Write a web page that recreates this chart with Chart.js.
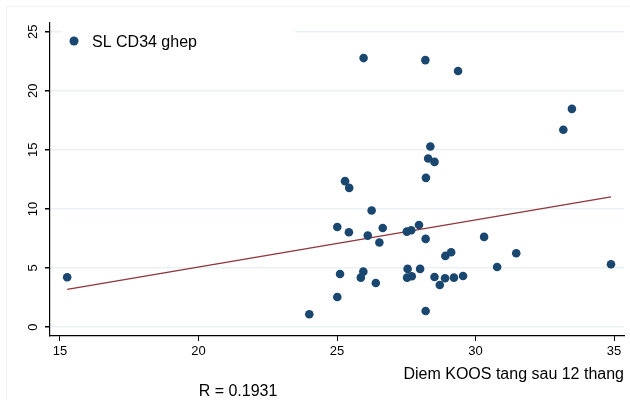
<!DOCTYPE html>
<html>
<head>
<meta charset="utf-8">
<script src="https://cdn.jsdelivr.net/npm/chart.js@4.4.1/dist/chart.umd.min.js"></script>
<style>html,body{margin:0;padding:0;background:#fff;}canvas{display:block;}</style>
</head>
<body>
<canvas id="c" width="630" height="400"></canvas>
<script>
// Data
const koosGain = [15.26, 24.0, 25.01, 25.01, 25.11, 25.29, 25.44, 25.43, 25.86, 25.95, 25.96, 26.11, 26.25, 26.4, 26.53, 26.65, 27.52, 27.68, 27.53, 27.55, 27.7, 27.96, 28.0, 28.19, 28.2, 28.21, 28.29, 28.37, 28.52, 28.2, 28.52, 28.71, 28.9, 28.91, 29.12, 29.22, 29.37, 29.55, 30.31, 30.78, 31.47, 33.17, 33.48, 34.89];
const cd34 = [4.21, 1.08, 8.47, 2.54, 4.49, 12.35, 11.78, 8.02, 4.18, 4.69, 22.77, 7.74, 9.86, 3.73, 7.15, 8.39, 8.08, 8.19, 4.18, 4.92, 4.3, 8.64, 4.92, 22.6, 7.46, 12.63, 14.27, 15.29, 13.98, 1.36, 4.24, 3.56, 4.13, 6.02, 6.33, 4.18, 21.67, 4.32, 7.63, 5.08, 6.25, 16.7, 18.47, 5.31];
const fitX = [15.26, 34.89];
const fitY = [3.19, 11.02];
const xTicks = [15, 20, 25, 30, 35];
const yTicks = [0, 5, 10, 15, 20, 25];
const seriesLabel = 'SL CD34 ghep';
const xTitle = 'Diem KOOS tang sau 12 thang';
const noteText = 'R = 0.1931';

const FONT = "'Liberation Sans', Arial, Helvetica, sans-serif";
Chart.defaults.font.family = FONT;
Chart.defaults.color = '#000';

const points = koosGain.map((x, i) => ({x: x, y: cd34[i]}));
const fit = fitX.map((x, i) => ({x: x, y: fitY[i]}));

const decor = {
  id: 'decor',
  beforeDraw(chart) {
    const ctx = chart.ctx;
    ctx.save();
    ctx.fillStyle = '#fff';
    ctx.fillRect(0, 0, chart.width, chart.height);
    ctx.strokeStyle = '#eef3f4';
    ctx.lineWidth = 1;
    ctx.strokeRect(6.5, 6.5, chart.width - 6, chart.height - 6);
    ctx.restore();
  },
  afterDatasetsDraw(chart) {
    const ctx = chart.ctx;
    const ds = chart.data.datasets[0];
    ctx.save();
    // legend box
    ctx.fillStyle = '#fff';
    ctx.fillRect(62, 24, 233, 34);
    ctx.fillStyle = ds.backgroundColor;
    ctx.beginPath();
    ctx.arc(74, 41, 4.5, 0, Math.PI * 2);
    ctx.fill();
    ctx.fillStyle = '#000';
    ctx.font = '16px ' + FONT;
    ctx.textBaseline = 'middle';
    ctx.textAlign = 'left';
    ctx.fillText(ds.label, 92, 43);
    // note
    ctx.textAlign = 'center';
    ctx.fillText(noteText, 238, 392);
    ctx.restore();
  }
};

new Chart(document.getElementById('c'), {
  type: 'scatter',
  data: {
    datasets: [
      {
        label: seriesLabel,
        data: points,
        backgroundColor: '#1a476f',
        borderColor: '#1a476f',
        borderWidth: 0,
        pointRadius: 4.3,
        pointHoverRadius: 4.3
      },
      {
        type: 'line',
        label: 'fit',
        data: fit,
        borderColor: '#90353b',
        borderWidth: 1.4,
        pointRadius: 0,
        fill: false,
        tension: 0
      }
    ]
  },
  options: {
    responsive: false,
    animation: false,
    events: [],
    layout: {padding: {top: 23, right: 6, left: 0, bottom: 0}},
    plugins: {
      legend: {display: false},
      tooltip: {enabled: false}
    },
    scales: {
      x: {
        type: 'linear',
        min: 14.64,
        max: 35.36,
        afterBuildTicks(scale) { scale.ticks = xTicks.map(v => ({value: v})); },
        afterFit(scale) { scale.height = 64; },
        grid: {drawOnChartArea: false, drawTicks: true, tickLength: 5, tickColor: '#000', lineWidth: 1},
        border: {display: true, color: '#000', width: 1.2},
        ticks: {font: {size: 13}, color: '#000', padding: 3, maxRotation: 0, autoSkip: false},
        title: {display: true, text: xTitle, align: 'end', font: {size: 16}, color: '#000', padding: {top: 16, bottom: 16}}
      },
      y: {
        type: 'linear',
        min: -0.76,
        max: 25.74,
        afterBuildTicks(scale) { scale.ticks = yTicks.map(v => ({value: v})); },
        afterFit(scale) { scale.width = 50; },
        grid: {drawOnChartArea: true, color: '#eaf1f2', lineWidth: 1.5, drawTicks: true, tickLength: 5, tickColor: '#000'},
        border: {display: true, color: '#000', width: 1.2},
        ticks: {font: {size: 13}, color: '#000', padding: 4, minRotation: 90, maxRotation: 90, crossAlign: 'center', autoSkip: false}
      }
    }
  },
  plugins: [decor]
});
</script>
</body>
</html>
